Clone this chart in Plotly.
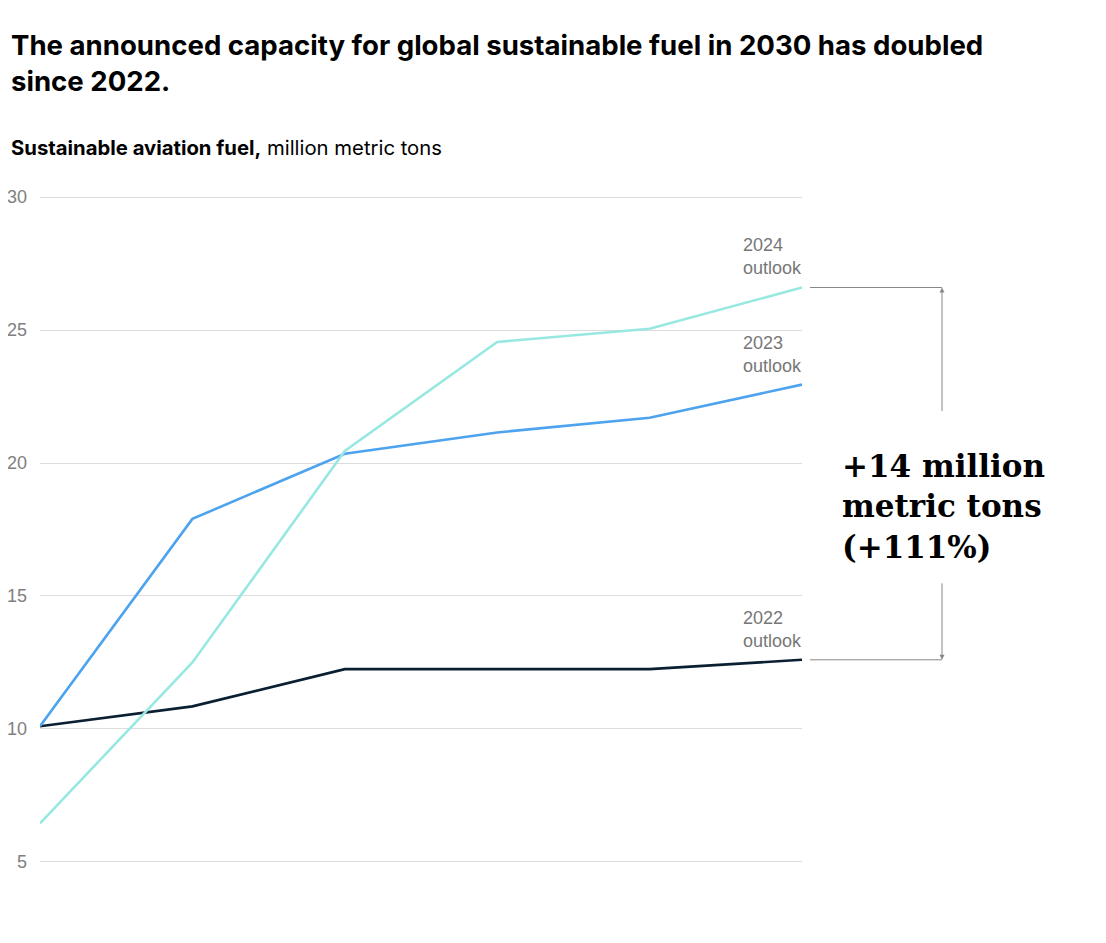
import plotly.graph_objects as go

# ---- data ----
years = ["2025", "2026", "2027", "2028", "2029", "2030"]
outlook_2022 = [10.1, 10.85, 12.25, 12.25, 12.25, 12.6]
outlook_2023 = [10.1, 17.9, 20.35, 21.15, 21.7, 22.95]
outlook_2024 = [6.45, 12.5, 20.45, 24.55, 25.05, 26.6]
series_names = ["2022<br>outlook", "2023<br>outlook", "2024<br>outlook"]
y_ticks = [5, 10, 15, 20, 25, 30]

colors = ["#0b1f33", "#4da3ee", "#98e8e2"]
all_series = [outlook_2022, outlook_2023, outlook_2024]

# page has 8px body margin, so figure is drawn 8px right/down
OFF = 8
W, H = 1098, 935
L, T = 40 - OFF, 196 - OFF
plot_w = 762
plot_h = 667
R = W - L - plot_w
B = H - T - plot_h
y_range = [4.96, 30.04]

fig = go.Figure()
for vals, col in zip(all_series, colors):
    fig.add_trace(go.Scatter(x=years, y=vals, mode="lines",
                             line=dict(color=col, width=2.6),
                             hoverinfo="skip", showlegend=False))

label_font = dict(family="Liberation Sans, Arial, sans-serif", size=18, color="#777777")
for vals, name in zip(all_series, series_names):
    fig.add_annotation(x=len(years) - 1, y=vals[-1], xref="x", yref="y",
                       text=name, showarrow=False, xanchor="right", yanchor="bottom",
                       align="left", yshift=7, xshift=2, font=label_font)

def px_to_paper_x(px):
    return (px - OFF - L) / plot_w

def px_to_paper_y(py):
    return (H - B - (py - OFF)) / plot_h

top_val = outlook_2024[-1]
bot_val = outlook_2022[-1]
diff = top_val - bot_val
pct = diff / bot_val * 100

bx = px_to_paper_x(942)
for v in (top_val, bot_val):
    fig.add_shape(type="line", xref="paper", yref="y",
                  x0=px_to_paper_x(810), x1=bx, y0=v, y1=v,
                  line=dict(color="#888888", width=1))

fig.add_annotation(xref="paper", yref="y", x=bx, y=top_val, ax=0, ay=125,
                   axref="pixel", ayref="pixel", text="", showarrow=True,
                   arrowhead=2, arrowsize=1, arrowwidth=1, arrowcolor="#888888")
fig.add_annotation(xref="paper", yref="y", x=bx, y=bot_val, ax=0, ay=-78,
                   axref="pixel", ayref="pixel", text="", showarrow=True,
                   arrowhead=2, arrowsize=1, arrowwidth=1, arrowcolor="#888888")

fig.add_annotation(xref="paper", yref="paper", x=px_to_paper_x(840), y=px_to_paper_y(506),
                   xanchor="left", yanchor="middle", align="left", showarrow=False,
                   text=f"<b>+{diff:.0f} million<br>metric tons<br>(+{pct:.0f}%)</b>",
                   font=dict(family="DejaVu Serif, Georgia, serif", size=31, color="#000000"))

# title & subtitle (figure's own left edge is at page x=8)
fig.add_annotation(xref="paper", yref="paper", x=px_to_paper_x(9), y=px_to_paper_y(26),
                   xanchor="left", yanchor="top", align="left", showarrow=False,
                   text="<b>The announced capacity for global sustainable fuel in 2030 has doubled<br>since 2022.</b>",
                   font=dict(family="Inter, Liberation Sans, sans-serif", size=27.6, color="#000000"))
fig.add_annotation(xref="paper", yref="paper", x=px_to_paper_x(9), y=px_to_paper_y(148),
                   xanchor="left", yanchor="middle", align="left", showarrow=False,
                   text="<b>Sustainable aviation fuel,</b> million metric tons",
                   font=dict(family="Inter, Liberation Sans, sans-serif", size=20.3, color="#000000"))

fig.update_xaxes(type="category", visible=False, range=[0, len(years) - 1],
                 showgrid=False, zeroline=False, automargin=False)
fig.update_yaxes(range=y_range, tickvals=y_ticks, showgrid=True, gridcolor="#dddddd",
                 gridwidth=1, zeroline=False, showline=False, ticks="",
                 ticklabelstandoff=12, automargin=False,
                 tickfont=dict(family="Liberation Sans, Arial, sans-serif", size=18, color="#808080"))

fig.update_layout(width=W, height=H, margin=dict(l=L, r=R, t=T, b=B),
                  plot_bgcolor="white", paper_bgcolor="white")

fig.write_html("out.html")
